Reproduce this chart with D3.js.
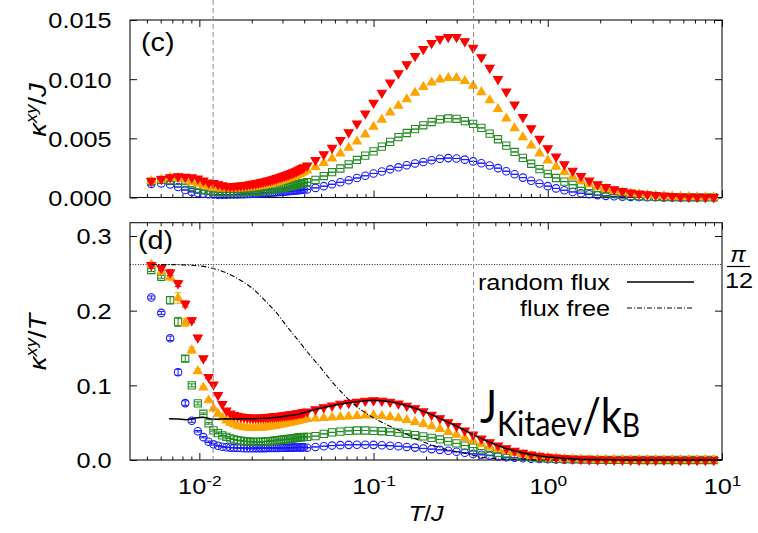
<!DOCTYPE html>
<html>
<head>
<meta charset="utf-8">
<script src="https://cdn.jsdelivr.net/npm/d3@7"></script>
<style>
  html, body { margin: 0; padding: 0; background: #fff; }
  svg { display: block; }
</style>
</head>
<body>
<svg id="chart" width="758" height="533"></svg>
<script>
// ---- temperature grid (T/J): fine linear steps at low T, then 21 points per decade ----
const tempsFine = [0.0053, 0.00605, 0.0068, 0.00755, 0.0083, 0.00905, 0.0098, 0.01055, 0.0113, 0.01205,
  0.0128, 0.01355, 0.0143, 0.01505, 0.0158, 0.01655, 0.0173, 0.01805, 0.0188, 0.01955,
  0.0203, 0.02105, 0.0218, 0.02255, 0.0233, 0.02405, 0.0248, 0.02555, 0.0263, 0.02705,
  0.0278, 0.02855, 0.0293, 0.03005, 0.0308, 0.03155, 0.0323, 0.03305, 0.0338, 0.03455,
  0.0353, 0.03605, 0.0368, 0.03755, 0.0383, 0.03905, 0.0398];
const tempsLog = [0.04159, 0.04642, 0.05179, 0.0578, 0.0645, 0.07197, 0.08032, 0.08963, 0.1, 0.1116,
  0.12453, 0.13895, 0.15506, 0.17303, 0.19307, 0.21544, 0.24041, 0.26827, 0.29936, 0.33405,
  0.37276, 0.41595, 0.46416, 0.51795, 0.57797, 0.64495, 0.71969, 0.80309, 0.89615, 1.0,
  1.1159, 1.2452, 1.3895, 1.5505, 1.7302, 1.9307, 2.1544, 2.4041, 2.6827, 2.9936,
  3.3405, 3.7276, 4.1595, 4.6416, 5.1795, 5.7797, 6.4495, 7.1969, 8.0309, 8.9615];
const temps = tempsFine.concat(tempsLog);

// ---- panel (c): kappa_xy / J, in units of 1e-3 ----
const kappaJBlue = [1.154,1.192,1.108,0.887,0.632,0.475,0.377,0.323,0.276,0.253,0.243,0.241,0.245,0.250,0.258,0.266,0.277,0.287,0.297,0.309,0.321,0.333,0.344,0.356,0.370,0.382,0.397,0.409,0.423,0.436,0.450,0.463,0.478,0.490,0.505,0.517,0.533,0.545,0.561,0.574,0.590,0.602,0.618,0.631,0.647,0.660,0.677,
  0.686,0.812,0.958,1.116,1.284,1.461,1.647,1.837,2.03,2.2,2.38,2.55,2.72,2.88,3.0,3.15,3.28,3.33,3.30,3.2,3.05,2.9,2.7,2.48,2.22,1.96,1.68,1.42,1.18,0.96,0.77,0.61,0.47,0.36,0.27,0.2,0.14,0.1,0.07,0.05,0.035,0.025,0.018,0.012,0.009,0.006,0.004,0.003,0.002,0.0015];
const kappaJGreen = [1.348,1.485,1.455,1.397,1.127,0.905,0.743,0.654,0.554,0.477,0.461,0.447,0.443,0.436,0.435,0.439,0.446,0.455,0.466,0.479,0.493,0.509,0.528,0.548,0.571,0.596,0.622,0.649,0.676,0.703,0.731,0.759,0.788,0.817,0.847,0.877,0.908,0.939,0.970,1.002,1.034,1.067,1.100,1.134,1.168,1.199,1.230,
  1.289,1.485,1.813,2.139,2.451,2.807,3.173,3.540,3.9,4.3,4.7,5.1,5.45,5.78,6.1,6.38,6.6,6.68,6.65,6.45,6.22,5.88,5.4,4.92,4.38,3.85,3.35,2.85,2.4,2.0,1.65,1.34,1.08,0.86,0.67,0.5,0.38,0.28,0.2,0.14,0.1,0.07,0.05,0.035,0.025,0.018,0.013,0.01,0.007,0.005];
const kappaJOrange = [1.389,1.525,1.666,1.638,1.527,1.330,1.166,1.023,0.904,0.831,0.794,0.772,0.758,0.753,0.758,0.761,0.779,0.794,0.818,0.841,0.873,0.905,0.937,0.974,1.014,1.058,1.104,1.150,1.197,1.244,1.293,1.342,1.392,1.442,1.494,1.546,1.599,1.653,1.707,1.762,1.818,1.875,1.932,1.990,2.049,2.109,2.169,
  2.28,2.58,2.91,3.29,3.72,4.20,4.74,5.33,5.98,6.58,7.18,7.75,8.3,8.85,9.35,9.72,9.98,10.1,10.1,9.85,9.45,8.9,8.22,7.48,6.68,5.86,5.1,4.4,3.73,3.12,2.6,2.15,1.76,1.42,1.13,0.9,0.71,0.56,0.44,0.34,0.27,0.21,0.16,0.12,0.09,0.07,0.05,0.04,0.03,0.02];
const kappaJRed = [1.383,1.555,1.707,1.786,1.735,1.692,1.607,1.435,1.254,1.217,1.114,1.016,0.944,0.933,0.948,0.976,1.003,1.038,1.072,1.110,1.147,1.189,1.232,1.281,1.328,1.376,1.426,1.477,1.525,1.577,1.629,1.682,1.735,1.788,1.842,1.896,1.951,2.006,2.062,2.118,2.174,2.235,2.296,2.358,2.421,2.484,2.547,
  2.7,3.15,3.65,4.2,4.85,5.5,6.25,7.1,8.0,8.85,9.7,10.5,11.25,11.95,12.55,13.05,13.4,13.55,13.55,13.2,12.65,11.85,10.95,10.0,8.95,7.85,6.8,5.85,4.95,4.15,3.45,2.8,2.25,1.8,1.42,1.12,0.88,0.69,0.54,0.42,0.33,0.26,0.2,0.15,0.11,0.08,0.06,0.045,0.035,0.025];

// ---- panel (d): kappa_xy / T ----
const kappaTBlue = [.2177,.197,.163,.1175,.0762,.0525,.0385,.0306,.0244,.021,.019,.0178,.0171,.0166,.0163,.0161,.016,.0159,.0158,.0158,.0158,.0158,.0158,.0158,.0159,.0159,.016,.016,.0161,.0161,.0162,.0162,.0163,.0163,.0164,.0164,.0165,.0165,.0166,.0166,.0167,.0167,.0168,.0168,.0169,.0169,.017,
  .0165,.0175,.0185,.0193,.0199,.0203,.0205,.0205,.0203,.0197,.0191,.0184,.0175,.0166,.0155,.0146,.0136,.0124,.0110,.0096,.0082,.0070,.0058,.0048,.0038,.0030,.0023,.0018,.0013,.00096,.00069,.00049,.00034,.00023,.00016,.0001,.00006,.00004,.00003,.00002,.00001,.00001,0,0,0,0,0,0,0,0];
const kappaTGreen = [.2544,.2454,.214,.185,.1358,.10,.0758,.062,.049,.0396,.036,.033,.031,.029,.0275,.0265,.0258,.0252,.0248,.0245,.0243,.0242,.0242,.0243,.0245,.0248,.0251,.0254,.0257,.026,.0263,.0266,.0269,.0272,.0275,.0278,.0281,.0284,.0287,.029,.0293,.0296,.0299,.0302,.0305,.0307,.0309,
  .031,.032,.035,.037,.038,.039,.0395,.0395,.0390,.0385,.0377,.0367,.0351,.0334,.0316,.0296,.0275,.0249,.0222,.0193,.0167,.0141,.0116,.0095,.0076,.0060,.0047,.0035,.0027,.0020,.0015,.0011,.00078,.00055,.00039,.00026,.00018,.00012,.00007,.00005,.00003,.00002,.00001,.00001,.00001,0,0,0,0,0];
const kappaTOrange = [.262,.252,.245,.217,.184,.147,.119,.097,.080,.069,.062,.057,.053,.050,.048,.046,.045,.044,.0435,.043,.043,.043,.043,.0432,.0435,.044,.0445,.045,.0455,.046,.0465,.047,.0475,.048,.0485,.049,.0495,.050,.0505,.051,.0515,.052,.0525,.053,.0535,.054,.0545,
  .0548,.0555,.0562,.0569,.0576,.0583,.059,.0595,.0598,.0590,.0577,.0558,.0535,.0511,.0484,.0451,.0415,.0376,.0337,.0295,.0254,.0214,.0177,.0144,.0116,.0091,.0071,.0055,.0042,.0031,.0023,.0017,.0013,.0009,.00065,.00047,.00033,.00023,.00016,.00011,.00008,.00006,.00004,.00003,.00002,.00001,.00001,.00001,0,0];
const kappaTRed = [.261,.257,.251,.2365,.209,.187,.164,.136,.111,.101,.087,.075,.066,.062,.060,.059,.058,.0575,.057,.0568,.0565,.0565,.0565,.0568,.057,.0572,.0575,.0578,.058,.0583,.0586,.0589,.0592,.0595,.0598,.0601,.0604,.0607,.061,.0613,.0616,.062,.0624,.0628,.0632,.0636,.064,
  .0649,.0679,.0705,.0727,.0752,.0764,.0778,.0792,.0800,.0793,.0779,.0756,.0726,.0691,.0650,.0606,.0557,.0505,.0453,.0395,.0339,.0285,.0236,.0193,.0155,.0122,.00945,.00728,.00552,.00415,.00309,.00225,.00162,.00116,.00082,.00058,.00041,.00029,.0002,.00014,.0001,.00007,.00005,.00003,.00002,.00001,.00001,.00001,0,0];

// statistical error of kappa_xy / T at the lowest temperatures (zero beyond)
const errTBlue   = [.002,.002,.003,.004,.003,.002,.001,.001,.001,.001];
const errTGreen  = [.002,.002,.005,.006,.004,.002,.002,.001,.001,.001];
const errTOrange = [.002,.003,.005,.007,.005,.004,.003,.002,.002,.001];
const errTRed    = [.002,.003,.004,.004,.004,.003,.002,.002,.002,.001];

// ---- reference curves in panel (d) ----
const randomFluxT = [0.0067,0.0075,0.0085,0.0095,0.0105,0.0115,0.0125,0.014,0.016,0.018,0.02,0.022,0.025,0.028,0.031,0.034,0.037,
  0.04159,0.04642,0.05179,0.0578,0.0645,0.07197,0.08032,0.08963,0.1,0.1116,0.12453,0.13895,0.15506,0.17303,0.19307,0.21544,0.24041,0.26827,0.29936,
  0.33405,0.37276,0.41595,0.46416,0.51795,0.57797,0.64495,0.71969,0.80309,0.89615,1.0,1.2452,1.5505,1.9307,2.4041,2.9936,4.1595,6.4495,10];
const randomFluxK = [.0553,.0548,.0538,.0562,.0572,.0552,.0545,.0552,.0548,.0553,.0551,.0556,.0562,.0572,.0585,.0598,.0612,
  .0645,.0675,.0702,.0726,.0750,.0766,.0781,.0794,.0801,.0795,.0780,.0757,.0727,.0692,.0651,.0607,.0558,.0506,.0454,
  .0396,.0340,.0286,.0237,.0193,.0155,.0122,.0095,.0073,.0055,.0041,.0022,.0011,.0006,.0003,.00014,.00005,.00001,0];
const fluxFreeT = [0.0053,0.007,0.009,0.011,0.012,0.014,0.016,0.018,0.02,0.0244,0.028,0.0318,0.0379,0.044,0.0493,0.059,0.0766,0.0958,
  0.12,0.148,0.18,0.23,0.28,0.357,0.41,0.5,0.6,0.8,1.2,10];
const fluxFreeK = [.2618,.2616,.2608,.2585,.2565,.2515,.245,.238,.2305,.211,.196,.179,.157,.138,.1246,.1023,.0754,.059,
  .047,.037,.027,.018,.0125,.0075,.004,.0018,.0007,.0002,0,0];
const quantizedValue = Math.PI / 12;

// axis ticks and the two marked temperatures
const yTicksTop = [0, 5, 10, 15];          // units of 1e-3
const yTicksBottom = [0, 0.1, 0.2, 0.3];
const xMajorTicks = [0.01, 0.1, 1, 10];
const guideTemps = [0.012, 0.375];

// ---------------------------------------------------------------------------
const svg = d3.select("#chart");
const FONT = '"Liberation Sans", Arial, Helvetica, sans-serif';
const SX = 1.15;   // labels are drawn slightly wide

const x = d3.scaleLog().domain([0.004, 10]).range([130, 722]);
const yTop = d3.scaleLinear().domain([0, 15]).range([197.5, 20]);
const yBot = d3.scaleLinear().domain([0, 0.3178]).range([460, 222.7]);
const xMinorTicks = x.ticks().filter(t => !xMajorTicks.some(m => Math.abs(m - t) / m < 1e-6) && t > 0.0041);

function frame(yScale) {
  const [y0, y1] = yScale.range();
  svg.append("rect").attr("x", 130).attr("y", y1).attr("width", 592).attr("height", y0 - y1)
    .attr("fill", "none").attr("stroke", "#111").attr("stroke-width", 1.1);
}

function xTicksFor(yScale, withLabels) {
  const [y0, y1] = yScale.range();
  [[d3.axisBottom, y0], [d3.axisTop, y1]].forEach(([ax, yy]) => {
    const gMin = svg.append("g").attr("transform", `translate(0,${yy})`)
      .call(ax(x).tickValues(xMinorTicks).tickSize(-3.5).tickFormat(""));
    gMin.select(".domain").remove();
    const gMaj = svg.append("g").attr("transform", `translate(0,${yy})`)
      .call(ax(x).tickValues(xMajorTicks).tickSize(-7).tickFormat(""));
    gMaj.select(".domain").remove();
    gMin.selectAll("line").attr("stroke", "#111");
    gMaj.selectAll("line").attr("stroke", "#111");
    if (withLabels && ax === d3.axisBottom) {
      gMaj.selectAll(".tick text").each(function (d) {
        const t = d3.select(this).text(null)
          .attr("y", 34).attr("dy", 0)
          .attr("font-family", FONT).attr("font-size", 22).attr("fill", "#000")
          .attr("text-anchor", "middle")
          .attr("transform", `scale(${SX},1)`);
        t.append("tspan").text("10");
        t.append("tspan").attr("font-size", 15).attr("dy", -8).text(String(Math.round(Math.log10(d))));
      });
    }
  });
}

function yTicksFor(yScale, values, fmt) {
  const gL = svg.append("g").attr("transform", "translate(130,0)")
    .call(d3.axisLeft(yScale).tickValues(values).tickSize(-7).tickFormat(fmt));
  gL.select(".domain").remove();
  gL.selectAll("line").attr("stroke", "#111");
  gL.selectAll(".tick text")
    .attr("x", -16).attr("dy", "0.36em")
    .attr("font-family", FONT).attr("font-size", 22).attr("fill", "#000")
    .attr("transform", `scale(${SX},1)`);
  const gR = svg.append("g").attr("transform", "translate(722,0)")
    .call(d3.axisRight(yScale).tickValues(values).tickSize(-7).tickFormat(""));
  gR.select(".domain").remove();
  gR.selectAll("line").attr("stroke", "#111");
}

function yTitle(cx, cy, denom) {
  const t = svg.append("text")
    .attr("transform", `translate(${cx},${cy}) rotate(-90) scale(${SX},1)`)
    .attr("text-anchor", "middle").attr("font-family", FONT).attr("font-size", 24).attr("fill", "#000");
  t.append("tspan").attr("font-style", "italic").text("κ");
  t.append("tspan").attr("font-style", "italic").attr("font-size", 16).attr("dy", -9).text("xy");
  t.append("tspan").attr("dy", 9).text("/");
  t.append("tspan").attr("font-style", "italic").text(denom);
}

function panelTag(px, py, label) {
  svg.append("text").attr("transform", `translate(${px},${py}) scale(${SX},1)`)
    .attr("font-family", FONT).attr("font-size", 25).attr("fill", "#000").text(label);
}

// marker styles for the four data sets
const seriesStyle = [
  { color: "#1a1aff", type: d3.symbolCircle,   size: 44, filled: false, rot: 0 },
  { color: "#228b22", type: d3.symbolSquare,   size: 52, filled: false, rot: 0 },
  { color: "#ffa500", type: d3.symbolTriangle, size: 32, filled: true,  rot: 0 },
  { color: "#ff0000", type: d3.symbolTriangle, size: 34, filled: true,  rot: 180 }
];

function drawSeries(yScale, values, errs, st) {
  const pts = temps.map((t, i) => ({ t, v: values[i], e: errs ? (errs[i] || 0) : 0 }))
    .filter(d => d.v !== undefined);
  const g = svg.append("g");
  g.append("g").selectAll("path").data(pts).join("path")
    .attr("d", d => {
      const xx = x(d.t), ya = yScale(d.v - d.e), yb = yScale(d.v + d.e), w = 3.3;
      return `M${xx},${ya}V${yb}M${xx - w},${ya}H${xx + w}M${xx - w},${yb}H${xx + w}`;
    })
    .attr("fill", "none").attr("stroke", st.color).attr("stroke-width", 1);
  const sym = d3.symbol().type(st.type).size(st.size);
  g.append("g").selectAll("path").data(pts).join("path")
    .attr("transform", d => `translate(${x(d.t)},${yScale(d.v)}) rotate(${st.rot})`)
    .attr("d", sym)
    .attr("fill", st.filled ? st.color : "none")
    .attr("stroke", st.color).attr("stroke-width", 1.1);
}

// ---- panel (c) ----
frame(yTop);
xTicksFor(yTop, false);
yTicksFor(yTop, yTicksTop, d => (d / 1000).toFixed(3));
[kappaJBlue, kappaJGreen, kappaJOrange, kappaJRed].forEach((vals, k) => drawSeries(yTop, vals, null, seriesStyle[k]));
panelTag(141, 51, "(c)");
yTitle(46, 110, "J");

// ---- panel (d) ----
frame(yBot);
xTicksFor(yBot, true);
yTicksFor(yBot, yTicksBottom, d => d.toFixed(1));

svg.append("line")
  .attr("x1", 130).attr("x2", 722).attr("y1", yBot(quantizedValue)).attr("y2", yBot(quantizedValue))
  .attr("stroke", "#222").attr("stroke-width", 1).attr("stroke-dasharray", "1,1.6");

const errSets = [errTBlue, errTGreen, errTOrange, errTRed];
[kappaTBlue, kappaTGreen, kappaTOrange, kappaTRed].forEach((vals, k) => drawSeries(yBot, vals, errSets[k], seriesStyle[k]));

svg.append("path").datum(d3.zip(fluxFreeT, fluxFreeK))
  .attr("d", d3.line().x(d => x(d[0])).y(d => yBot(d[1])).curve(d3.curveMonotoneX))
  .attr("fill", "none").attr("stroke", "#000").attr("stroke-width", 1.1).attr("stroke-dasharray", "5,2,1,2");
svg.append("path").datum(d3.zip(randomFluxT, randomFluxK))
  .attr("d", d3.line().x(d => x(d[0])).y(d => yBot(d[1])))
  .attr("fill", "none").attr("stroke", "#000").attr("stroke-width", 1.5);

panelTag(138, 249, "(d)");
yTitle(46, 342, "T");

// legend
const legend = [
  { label: "random flux", dash: null, y: 282 },
  { label: "flux free", dash: "5,2,1,2", y: 308 }
];
legend.forEach(l => {
  svg.append("text").attr("transform", `translate(610,${l.y + 8}) scale(${SX},1)`)
    .attr("text-anchor", "end").attr("font-family", FONT).attr("font-size", 22).attr("fill", "#000").text(l.label);
  svg.append("line").attr("x1", 627).attr("x2", 694).attr("y1", l.y).attr("y2", l.y)
    .attr("stroke", "#000").attr("stroke-width", l.dash ? 1.1 : 1.5)
    .attr("stroke-dasharray", l.dash);
});

// pi/12 marker on the right
svg.append("text").attr("x", 738).attr("y", 262).attr("text-anchor", "middle")
  .attr("font-family", FONT).attr("font-size", 23).attr("font-style", "italic").text("π");
svg.append("line").attr("x1", 727).attr("x2", 750).attr("y1", 266.5).attr("y2", 266.5)
  .attr("stroke", "#000").attr("stroke-width", 1.2);
svg.append("text").attr("transform", `translate(739,288) scale(${SX},1)`).attr("text-anchor", "middle")
  .attr("font-family", FONT).attr("font-size", 22).text("12");

// x-axis title
const xt = svg.append("text").attr("transform", `translate(426,521) scale(${SX},1)`).attr("text-anchor", "middle")
  .attr("font-family", FONT).attr("font-size", 22).attr("fill", "#000");
xt.append("tspan").attr("font-style", "italic").text("T");
xt.append("tspan").text("/");
xt.append("tspan").attr("font-style", "italic").text("J");

// vertical guide lines through both panels
guideTemps.forEach(t => {
  svg.append("line").attr("x1", x(t)).attr("x2", x(t)).attr("y1", 0).attr("y2", 460)
    .attr("stroke", "#8c8c8c").attr("stroke-width", 1).attr("stroke-dasharray", "5,3");
});

// energy-scale annotation, one text run with sub/baseline shifts
const ann = svg.append("text").attr("transform", "translate(480,423) scale(0.87,1)")
  .attr("font-family", "Lato, 'Open Sans', sans-serif").attr("fill", "#000");
ann.append("tspan").attr("font-size", 46).text("J");
ann.append("tspan").attr("font-size", 35).attr("dy", 13).text("Kitaev");
ann.append("tspan").attr("font-size", 48).attr("dy", -3).text("/k");
ann.append("tspan").attr("font-size", 32).attr("dy", 4).text("B");
</script>
</body>
</html>
